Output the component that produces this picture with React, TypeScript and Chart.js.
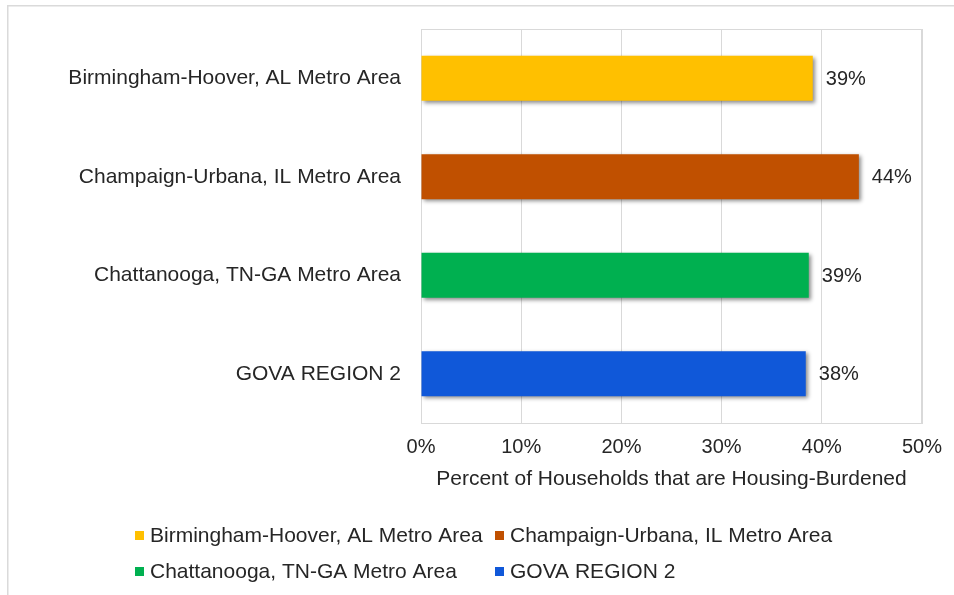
import { useEffect, useRef } from "react";
import { Chart, registerables } from "chart.js";

Chart.register(...registerables);

const categories = [
  "Birmingham-Hoover, AL Metro Area",
  "Champaign-Urbana, IL Metro Area",
  "Chattanooga, TN-GA Metro Area",
  "GOVA REGION 2",
];
const values = [39.1, 43.7, 38.7, 38.4];
const colors = ["#FFC000", "#C05000", "#00B050", "#1058D9"];
const axisMin = 0;
const axisMax = 50;
const axisStep = 10;
const axisTitle = "Percent of Households that are Housing-Burdened";

const FONT = "'Liberation Sans', Arial, sans-serif";
const TEXT = "#262626";
const GRID = "#d9d9d9";

const framePlugin = {
  id: "frame",
  beforeDraw(chart: any) {
    const { ctx, width, height } = chart;
    ctx.save();
    ctx.fillStyle = "#ffffff";
    ctx.fillRect(0, 0, width, height);
    ctx.fillStyle = "#dadada";
    ctx.fillRect(7, 5, width - 7, 1.5);
    ctx.fillRect(7, 5, 1.5, height - 5);
    ctx.restore();
  },
  beforeDatasetsDraw(chart: any) {
    const { ctx, chartArea: a } = chart;
    ctx.save();
    ctx.strokeStyle = GRID;
    ctx.lineWidth = 1;
    ctx.strokeRect(Math.round(a.left) + 0.5, Math.round(a.top) + 0.5, Math.round(a.right - a.left), Math.round(a.bottom - a.top));
    ctx.restore();
  },
};

const shadowPlugin = {
  id: "barShadow",
  beforeDatasetDraw(chart: any) {
    const ctx = chart.ctx;
    ctx.save();
    ctx.shadowColor = "rgba(0,0,0,0.45)";
    ctx.shadowBlur = 4;
    ctx.shadowOffsetX = 2;
    ctx.shadowOffsetY = 2;
  },
  afterDatasetDraw(chart: any) {
    chart.ctx.restore();
  },
};

const labelPlugin = {
  id: "valueLabels",
  afterDatasetsDraw(chart: any) {
    const ctx = chart.ctx;
    ctx.save();
    ctx.font = `20px ${FONT}`;
    ctx.fillStyle = TEXT;
    ctx.textAlign = "left";
    ctx.textBaseline = "middle";
    chart.data.datasets.forEach((ds: any, di: number) => {
      const meta = chart.getDatasetMeta(di);
      meta.data.forEach((bar: any, i: number) => {
        const v = ds.data[i];
        if (v == null || !isFinite(bar.x)) return;
        ctx.fillText(`${Math.round(v)}%`, bar.x + 13, bar.y + 1);
      });
    });
    ctx.restore();
  },
};

const legendCols = [135, 495];
const legendRows = [536, 572];

const gridLegendPlugin = {
  id: "gridLegend",
  afterDraw(chart: any) {
    const ctx = chart.ctx;
    ctx.save();
    ctx.font = `21px ${FONT}`;
    ctx.textBaseline = "middle";
    ctx.textAlign = "left";
    chart.data.datasets.forEach((ds: any, i: number) => {
      const x = legendCols[i % 2];
      const y = legendRows[Math.floor(i / 2)];
      ctx.fillStyle = ds.backgroundColor;
      ctx.fillRect(x, y - 5, 9, 9);
      ctx.fillStyle = TEXT;
      ctx.fillText(ds.label, x + 15, y);
    });
    ctx.restore();
  },
};

export default function App() {
  const ref = useRef<HTMLCanvasElement | null>(null);

  useEffect(() => {
    if (!ref.current) return;
    const datasets = categories.map((c, i) => ({
      label: c,
      data: categories.map((_, j) => (j === i ? values[i] : null)),
      backgroundColor: colors[i],
      borderWidth: 0,
      barPercentage: 0.457,
      categoryPercentage: 1,
    }));
    const chart = new Chart(ref.current, {
      type: "bar",
      data: { labels: categories, datasets },
      options: {
        indexAxis: "y",
        responsive: false,
        animation: false,
        layout: { padding: { top: 29, right: 12, bottom: 103, left: 0 } },
        plugins: {
          legend: { display: false },
          tooltip: { enabled: false },
        },
        scales: {
          x: {
            stacked: true,
            min: axisMin,
            max: axisMax,
            ticks: {
              stepSize: axisStep,
              padding: 12,
              color: TEXT,
              font: { family: FONT, size: 20 },
              callback: (v: any) => `${v}%`,
            },
            grid: { color: GRID, drawTicks: false, lineWidth: 1 },
            border: { display: true, color: GRID },
            title: {
              display: true,
              text: axisTitle,
              color: TEXT,
              font: { family: FONT, size: 21 },
              padding: { top: 0, bottom: 0 },
            },
            afterFit: (scale: any) => {
              scale.height = 69;
            },
          },
          y: {
            stacked: true,
            ticks: {
              padding: 20,
              color: TEXT,
              font: { family: FONT, size: 21 },
            },
            grid: { display: false, drawTicks: false },
            border: { display: true, color: GRID },
            afterFit: (scale: any) => {
              scale.width = 421;
              scale.paddingTop = 0;
              scale.paddingBottom = 0;
            },
          },
        },
      },
      plugins: [framePlugin, shadowPlugin, labelPlugin, gridLegendPlugin],
    } as any);
    return () => chart.destroy();
  }, []);

  return (
    <div style={{ position: "absolute", left: 0, top: 0, width: 954, height: 595 }}>
      <canvas ref={ref} width={954} height={595} style={{ display: "block" }} />
    </div>
  );
}
